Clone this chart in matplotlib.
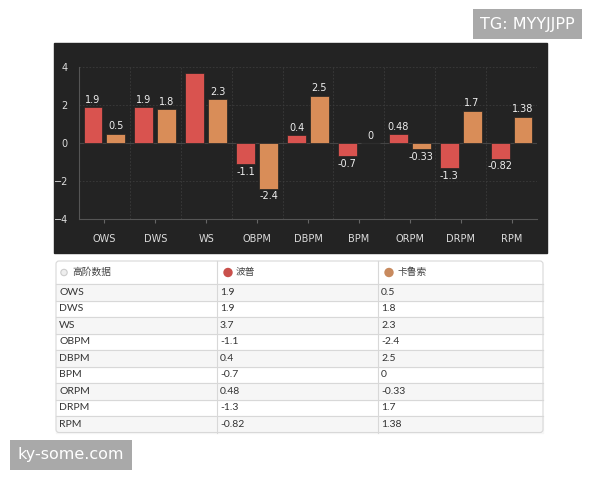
import matplotlib.pyplot as plt
import numpy as np
from matplotlib.patches import FancyBboxPatch, Rectangle, Circle

plt.rcParams['font.family'] = ['Lato', 'Noto Sans CJK SC', 'DejaVu Sans']

# data
stats = ['OWS', 'DWS', 'WS', 'OBPM', 'DBPM', 'BPM', 'ORPM', 'DRPM', 'RPM']
bopu = [1.9, 1.9, 3.7, -1.1, 0.4, -0.7, 0.48, -1.3, -0.82]
kalusuo = [0.5, 1.8, 2.3, -2.4, 2.5, 0, -0.33, 1.7, 1.38]
bopu_labels = ['1.9', '1.9', '3.7', '-1.1', '0.4', '-0.7', '0.48', '-1.3', '-0.82']
kalusuo_labels = ['0.5', '1.8', '2.3', '-2.4', '2.5', '0', '-0.33', '1.7', '1.38']
header = ['高阶数据', '波普', '卡鲁索']

red = '#d9534f'
tan = '#d98d58'

fig = plt.figure(figsize=(6, 4.8), dpi=100)

# background layer in pixel coords
bg = fig.add_axes([0, 0, 1, 1])
bg.set_xlim(0, 600)
bg.set_ylim(480, 0)
bg.axis('off')

# dark panel
bg.add_patch(Rectangle((54, 43), 493, 210, color='#232323', zorder=0))

# table
col_x = [56, 217, 378, 543]
top = 261
head_h = 23
row_h = 16.5
n = len(stats)
bottom = top + head_h + row_h * n
for i in range(n):
    y0 = top + head_h + i * row_h
    if i % 2 == 0:
        bg.add_patch(Rectangle((col_x[0], y0), col_x[-1] - col_x[0], row_h,
                               color='#f6f6f6', zorder=1.5))
    bg.plot([col_x[0], col_x[-1]], [y0, y0], color='#d8d8d8', lw=0.8, zorder=2)
    yc = y0 + row_h / 2
    bg.text(col_x[0] + 3, yc, stats[i], fontsize=7.5, color='#333333', va='center', zorder=3)
    bg.text(col_x[1] + 3, yc, bopu_labels[i], fontsize=7.5, color='#333333', va='center', zorder=3)
    bg.text(col_x[2] + 3, yc, kalusuo_labels[i], fontsize=7.5, color='#333333', va='center', zorder=3)
for x in col_x[1:-1]:
    bg.plot([x, x], [top, bottom], color='#d8d8d8', lw=0.8, zorder=2)
bg.add_patch(FancyBboxPatch((col_x[0], top), col_x[-1] - col_x[0], bottom - top,
                            boxstyle='round,pad=0,rounding_size=3',
                            facecolor='none', edgecolor='#d8d8d8', lw=0.8, zorder=4))

hy = top + head_h / 2
bg.add_patch(Circle((col_x[0] + 8, hy), 3.2, facecolor='#eeeeee', edgecolor='#cccccc', lw=0.8, zorder=3))
bg.add_patch(Circle((col_x[1] + 11, hy), 4, color='#c9504b', zorder=3))
bg.add_patch(Circle((col_x[2] + 11, hy), 4, color='#c88a5e', zorder=3))
bg.text(col_x[0] + 16, hy, header[0], fontsize=7, color='#444444', va='center', zorder=3)
bg.text(col_x[1] + 19, hy, header[1], fontsize=7, color='#444444', va='center', zorder=3)
bg.text(col_x[2] + 19, hy, header[2], fontsize=7, color='#444444', va='center', zorder=3)

# watermarks
bg.text(527, 24, 'TG: MYYJJPP', fontsize=11.5, color='white', ha='center', va='center',
        family='DejaVu Sans',
        bbox=dict(boxstyle='square,pad=0.45', facecolor='#a9a9a9', edgecolor='none'))
bg.text(71, 455, 'ky-some.com', fontsize=11.5, color='white', ha='center', va='center',
        family='DejaVu Sans',
        bbox=dict(boxstyle='square,pad=0.5', facecolor='#a9a9a9', edgecolor='none'))

# bar chart
ax = fig.add_axes([79 / 600, 1 - 219 / 480, 458 / 600, 152 / 480])
ax.set_facecolor('#232323')
x = np.arange(len(stats))
w = 0.37
gap = 0.04
b1 = ax.bar(x - w / 2 - gap, bopu, w, color=red, edgecolor='#232323', lw=0.5, zorder=3)
b2 = ax.bar(x + w / 2 + gap, kalusuo, w, color=tan, edgecolor='#232323', lw=0.5, zorder=3)
for bars, labels in ((b1, bopu_labels), (b2, kalusuo_labels)):
    for rect, lab in zip(bars, labels):
        v = rect.get_height()
        xc = rect.get_x() + rect.get_width() / 2
        if v > 3.5:
            continue  # label would not fit inside the plot
        if v >= 0:
            ax.text(xc, v + 0.12, lab, ha='center', va='bottom', fontsize=7, color='#eeeeee',
                    family='DejaVu Sans')
        else:
            ax.text(xc, v - 0.15, lab, ha='center', va='top', fontsize=7, color='#eeeeee',
                    family='DejaVu Sans')
ax.axhline(0, color='#444444', lw=0.8, zorder=2)

ax.set_xlim(-0.5, len(stats) - 0.5)
ax.set_ylim(-4, 4)
ax.set_yticks([-4, -2, 0, 2, 4])
ax.set_xticks(x)
ax.set_xticklabels(stats)
ax.tick_params(colors='#dddddd', labelsize=7, length=3)
ax.tick_params(axis='y', length=0, pad=8)
ax.tick_params(axis='x', color='#666666', pad=8)
for lab in ax.get_xticklabels() + ax.get_yticklabels():
    lab.set_family('DejaVu Sans')
for s in ['top', 'right']:
    ax.spines[s].set_visible(False)
for s in ['left', 'bottom']:
    ax.spines[s].set_color('#555555')
ax.grid(axis='y', color='#3c3c3c', ls=(0, (2, 2)), lw=0.6, zorder=0)
for b in np.arange(0.5, len(stats) - 0.5):
    ax.axvline(b, color='#3c3c3c', ls=(0, (2, 2)), lw=0.6, zorder=0)

fig.savefig('out.png', dpi=100, facecolor='white')
